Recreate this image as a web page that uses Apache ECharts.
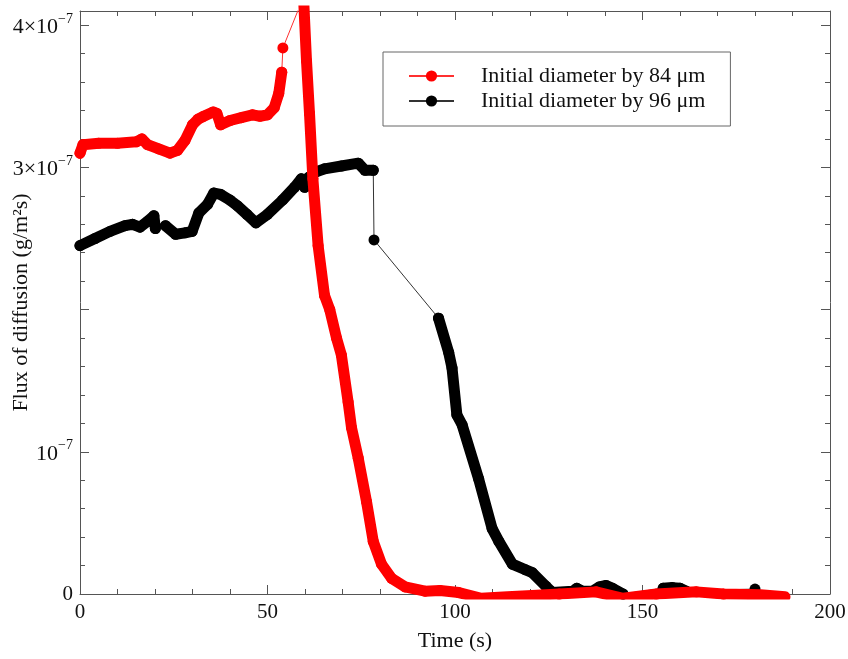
<!DOCTYPE html>
<html>
<head>
<meta charset="utf-8">
<script src="https://cdn.jsdelivr.net/npm/echarts@6/dist/echarts.min.js"></script>
<style>
html,body{margin:0;padding:0;background:#fff;}
#chart{width:848px;height:659px;}
</style>
</head>
<body>
<div id="chart"></div>
<script>
// values in units of 1e-7 g/(m^2 s)
const SCALE = 1e-7;
const seriesNames = ['Initial diameter by 84 \u03bcm', 'Initial diameter by 96 \u03bcm'];

// 84 um (red)
const redTime = [0, 0.8, 5, 10, 15, 16.5, 18, 21, 24, 26, 28, 30, 31.5, 33, 35.5, 36.5, 37.5, 40, 43, 46, 48, 50, 51.8, 53, 53.8,
  54.1,
  59.6, 60.4, 61.2, 62.1, 63.5, 65.2, 66.6, 68.4, 69.7, 71.5, 72.4, 74.2, 76.4, 78.2, 80.4, 83.1, 86.7, 92, 96, 101, 107, 114, 120.6, 127.8, 137.6, 144.8, 153.7, 164.4, 171.6, 181.4, 188];
const redFlux = [3.10, 3.16, 3.17, 3.17, 3.18, 3.20, 3.16, 3.13, 3.10, 3.12, 3.19, 3.30, 3.34, 3.36, 3.39, 3.38, 3.30, 3.33, 3.35, 3.37, 3.36, 3.37, 3.42, 3.52, 3.67,
  3.84,
  4.20, 3.75, 3.38, 2.92, 2.45, 2.10, 2.00, 1.80, 1.68, 1.35, 1.17, 0.955, 0.65, 0.37, 0.21, 0.11, 0.05, 0.02, 0.025, 0.01, -0.03, -0.02, -0.01, 0.0, 0.015, -0.03, 0.0, 0.015, 0.0, -0.005, -0.02];
const redSegment = [1,1,1,1,1,1,1,1,1,1,1,1,1,1,1,1,1,1,1,1,1,1,1,1,1,
  0,
  2,2,2,2,2,2,2,2,2,2,2,2,2,2,2,2,2,2,2,2,2,2,2,2,2,2,2,2,2,2,2];

// 96 um (black)
const blackTime = [0, 4, 8, 12, 14, 16, 18, 19.7, 20.1,
  22.8, 25.5, 28, 29.9, 31.7, 34, 35.7, 37.5, 40, 42, 44.5, 46.9, 50, 54, 57.2, 59, 59.9, 61, 63, 65.2, 69.7, 74.2, 76, 78.2,
  78.4,
  95.6, 98.3, 99.2, 100.5, 101.9, 106.3, 109.9, 111.7, 115.3, 118.8, 120.6, 124.2, 126, 131.4, 132.5, 134, 136.7, 138.5, 140.3, 142, 144.8,
  155.5, 158, 160, 161.7,
  180];
const blackFlux = [2.45, 2.50, 2.55, 2.59, 2.60, 2.58, 2.62, 2.66, 2.57,
  2.59, 2.53, 2.54, 2.55, 2.68, 2.74, 2.82, 2.81, 2.77, 2.73, 2.67, 2.61, 2.67, 2.77, 2.86, 2.92, 2.86, 2.93, 2.97, 2.99, 3.01, 3.03, 2.98, 2.98,
  2.49,
  1.94, 1.70, 1.59, 1.26, 1.19, 0.81, 0.46, 0.37, 0.21, 0.17, 0.15, 0.056, 0.01, 0.02, 0.04, 0.02, 0.02, 0.05, 0.06, 0.04, 0.0,
  0.04, 0.045, 0.04, 0.02,
  0.035];
const blackSegment = [1,1,1,1,1,1,1,1,1,
  2,2,2,2,2,2,2,2,2,2,2,2,2,2,2,2,2,2,2,2,2,2,2,2,
  0,
  3,3,3,3,3,3,3,3,3,3,3,3,3,3,3,3,3,3,3,3,3,
  4,4,4,4,
  0];

const xTicks = {min: 0, max: 200, interval: 50};
const yTicks = {min: 0, max: 4.1, interval: 1};

function allPoints(t, f) {
  return t.map((x, i) => [x, f[i] * SCALE]);
}
function thickPoints(t, f, seg) {
  const out = [];
  let prev = -1;
  for (let i = 0; i < t.length; i++) {
    if (seg[i] > 0) {
      if (prev !== -1 && prev !== seg[i]) out.push(null);
      out.push([t[i], f[i] * SCALE]);
      prev = seg[i];
    }
  }
  return out;
}

const serif = 'Liberation Serif, Times New Roman, serif';
const axisColor = '#555';

function yLabel(v) {
  const k = v / SCALE;
  const r = Math.round(k);
  if (Math.abs(k - r) > 1e-6) return '';
  if (r === 0) return '0';
  if (r === 2) return '';
  const pre = r === 1 ? '10' : r + '\u00d710';
  return '{b|' + pre + '}{s|\u22127}';
}

function axisStyle(extra) {
  const base = {
    axisLine: {show: true, onZero: false, lineStyle: {color: axisColor, width: 1}},
    axisTick: {show: true, inside: true, length: 9, lineStyle: {color: axisColor}},
    minorTick: {show: true, splitNumber: 5, length: 5, lineStyle: {color: axisColor}},
    splitLine: {show: false},
    minorSplitLine: {show: false}
  };
  return Object.assign(JSON.parse(JSON.stringify(base)), extra);
}

const chart = echarts.init(document.getElementById('chart'), null, {renderer: 'canvas'});
chart.setOption({
  animation: false,
  backgroundColor: '#fff',
  grid: {left: 80, right: 18, top: 11, bottom: 65, containLabel: false, outerBoundsMode: 'none'},
  legend: {
    data: seriesNames,
    orient: 'vertical',
    left: 383, top: 52,
    padding: [13, 25, 14, 25],
    itemGap: 3,
    itemWidth: 45, itemHeight: 14,
    borderColor: '#666', borderWidth: 1, borderRadius: 0,
    textStyle: {fontFamily: serif, fontSize: 22, color: '#111', padding: [0, 0, 0, 22], lineHeight: 22}
  },
  xAxis: [
    axisStyle({
      type: 'value', position: 'bottom',
      min: xTicks.min, max: xTicks.max, interval: xTicks.interval,
      name: 'Time (s)', nameLocation: 'middle', nameGap: 36, nameMoveOverlap: false,
      nameTextStyle: {fontFamily: serif, fontSize: 22, color: '#111'},
      axisLabel: {fontFamily: serif, fontSize: 21, color: '#111', margin: 8}
    }),
    axisStyle({
      type: 'value', position: 'top',
      min: xTicks.min, max: xTicks.max, interval: xTicks.interval,
      axisLabel: {show: false}
    })
  ],
  yAxis: [
    axisStyle({
      type: 'value', position: 'left',
      min: yTicks.min * SCALE, max: yTicks.max * SCALE, interval: yTicks.interval * SCALE,
      name: 'Flux of diffusion (g/m\u00b2s)', nameLocation: 'middle', nameGap: 48, nameMoveOverlap: false,
      nameTextStyle: {fontFamily: serif, fontSize: 22, color: '#111'},
      axisLabel: {
        formatter: yLabel, margin: 7, color: '#111',
        fontFamily: serif, fontSize: 21,
        rich: {
          b: {fontFamily: serif, fontSize: 22, color: '#111', lineHeight: 26, verticalAlign: 'bottom'},
          s: {fontFamily: serif, fontSize: 14, color: '#111', lineHeight: 26, verticalAlign: 'top'}
        }
      }
    }),
    axisStyle({
      type: 'value', position: 'right',
      min: yTicks.min * SCALE, max: yTicks.max * SCALE, interval: yTicks.interval * SCALE,
      axisLabel: {show: false}
    })
  ],
  series: [
    {
      name: seriesNames[1], type: 'line', z: 2,
      data: allPoints(blackTime, blackFlux),
      symbol: 'circle', symbolSize: 11, showSymbol: true, showAllSymbol: true,
      itemStyle: {color: '#000'},
      lineStyle: {color: '#333', width: 1},
      clip: true
    },
    {
      name: seriesNames[0], type: 'line', z: 4,
      data: allPoints(redTime, redFlux),
      symbol: 'circle', symbolSize: 11, showSymbol: true, showAllSymbol: true,
      itemStyle: {color: '#ff0000'},
      lineStyle: {color: '#ff3030', width: 1},
      clip: true
    },
    {
      name: 'thick96', type: 'line', z: 3,
      data: thickPoints(blackTime, blackFlux, blackSegment),
      symbol: 'none', connectNulls: false,
      lineStyle: {color: '#000', width: 11, cap: 'round', join: 'round'},
      clip: true, silent: true
    },
    {
      name: 'thick84', type: 'line', z: 5,
      data: thickPoints(redTime, redFlux, redSegment),
      symbol: 'none', connectNulls: false,
      lineStyle: {color: '#ff0000', width: 11, cap: 'round', join: 'round'},
      clip: true, silent: true
    }
  ]
});
</script>
</body>
</html>
